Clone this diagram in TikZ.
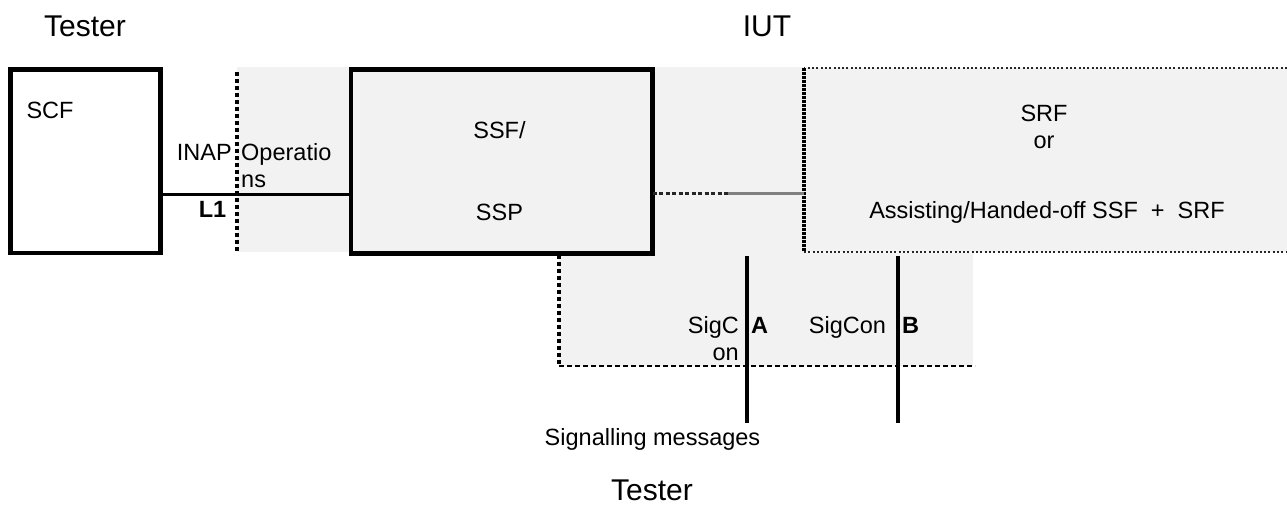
\documentclass[tikz,border=0pt]{standalone}
\usepackage{fontspec}
\setmainfont{Liberation Sans}
\usetikzlibrary{calc,positioning}
\definecolor{panel}{HTML}{F2F2F2}
\tikzset{
	big/.style={font=\fontsize{30}{34}\selectfont, inner sep=0pt, anchor=base},
	txt/.style={font=\fontsize{23.5}{27}\selectfont, inner sep=0pt, anchor=base},
	fe box/.style={draw, line width=4.5pt, outer sep=0pt, inner sep=0pt},
	fe area/.style={fill=panel, outer sep=0pt, inner sep=0pt},
	link/.style={line width=3pt},
	sig/.style={line width=4pt},
	thick dots/.style={line width=4pt, dash pattern=on 3.5pt off 3.5pt},
	fine dots/.style={line width=2.5pt, dash pattern=on 2pt off 2.3pt, black!85},
	mid dots/.style={line width=3pt, dash pattern=on 4pt off 2.5pt, black!85},
	dashes/.style={line width=2pt, dash pattern=on 5pt off 3pt}
}

\begin{document}
\begin{tikzpicture}[x=1pt, y=-1pt]
	\useasboundingbox (0,0) rectangle (1287,506);
	% shaded parts of the IUT
	\fill[panel] (237,67) rectangle (351,252);
	\fill[panel] (652,67) rectangle (804,253);
	\fill[panel] (559,253) rectangle (973,366);
	% functional entities
	\node[fe box, minimum width=150pt, minimum height=183.5pt] (scf) at (85.5,161.25) {};
	\node[fe box, fill=panel, minimum width=301.7pt, minimum height=183.8pt] (ssf) at (501.85,161.4) {};
	\node[fe area, minimum width=483pt, minimum height=184pt] (srf) at (1045.5,160) {};
	\draw[fine dots] (srf.north east) -- (srf.north west);
	\draw[thick dots, line width=3.5pt, dash pattern=on 2.5pt off 1.5pt] (srf.north west) -- (srf.south west);
	\draw[fine dots] (srf.south west) -- (srf.south east);
	% tester / IUT borders
	\coordinate (opTop) at (237,72);
	\coordinate (opBot) at (237,252);
	\draw[thick dots] (opTop) -- (opBot);
	\coordinate (sigTL) at (559,255);
	\coordinate (sigBL) at (559,366);
	\coordinate (sigBR) at (975,366);
	\draw[thick dots, line width=3.5pt] (sigTL) -- (sigBL);
	\draw[dashes] (sigBL) -- (sigBR);
	% links
	\coordinate (l1) at (0,194.5);
	\draw[link] (scf.east |- l1) -- (ssf.west |- l1);
	\coordinate (mid) at (728,193.5);
	\draw[mid dots] (ssf.east |- mid) -- (mid);
	\draw[link, gray] (mid) -- (srf.west |- mid);
	% signalling points
	\coordinate (sigAin) at (747,256);
	\coordinate (sigAout) at (747,423);
	\coordinate (sigBin) at (898,256);
	\coordinate (sigBout) at (898,423);
	\draw[sig] (sigAin) -- (sigAout);
	\draw[sig] (sigBin) -- (sigBout);
	% labels
	\node[big] (testerTop) at (85,36) {Tester};
	\node[big] (iut) at (767,36) {IUT};
	\node[big] (testerBot) at (652,500) {Tester};
	\node[txt] (scfLbl) at (50,118) {SCF};
	\node[txt, anchor=base east] (inap) at (232,160) {INAP};
	\node[txt, anchor=base west] (ops1) at (241,160) {Operatio};
	\node[txt, anchor=base west] (ops2) at (241,187) {ns};
	\node[txt, font=\fontsize{23.5}{27}\selectfont\bfseries] (l1Lbl) at (212.5,217) {L1};
	\node[txt] (ssfLbl) at (499.5,138) {SSF/};
	\node[txt] (sspLbl) at (499.5,220) {SSP};
	\node[txt] (srfLbl) at (1044,121.7) {SRF};
	\node[txt] (orLbl) at (1044,148) {or};
	\node[txt] (assistLbl) at (1047,218.3) {Assisting/Handed-off SSF\ \ +\ \ SRF};
	\node[txt, anchor=base east] (sigc1) at (739,333) {SigC};
	\node[txt, anchor=base east] (sigc2) at (739,360) {on};
	\node[txt, font=\fontsize{23.5}{27}\selectfont\bfseries] (aLbl) at (759.5,333) {A};
	\node[txt] (sigcon) at (847.5,333) {SigCon};
	\node[txt, font=\fontsize{23.5}{27}\selectfont\bfseries] (bLbl) at (910.5,333) {B};
	\node[txt] (msgLbl) at (652.5,445) {Signalling messages};
\end{tikzpicture}
\end{document}
